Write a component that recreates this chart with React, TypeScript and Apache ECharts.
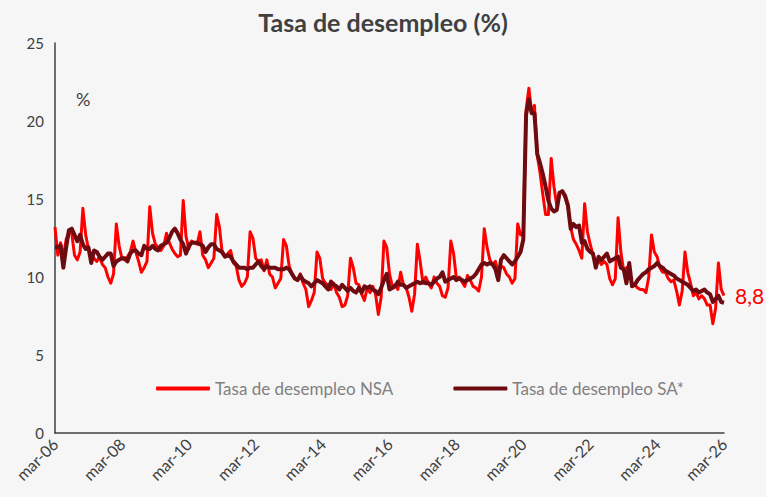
import React, { useEffect, useRef } from "react";
import * as echarts from "echarts";

// Monthly series from mar-2006 to mar-2026 (241 months)
const START_YEAR = 2006;
const START_MONTH = 2; // 0-based: marzo
const MONTHS_ES = ["ene", "feb", "mar", "abr", "may", "jun", "jul", "ago", "sep", "oct", "nov", "dic"];

// Tasa de desempleo NSA (%)
const NSA: number[] = [
  13.2, 11.4, 12.2, 11.3, 12.4, 12.9, 12.8, 11.4, 11.1, 11.6, // 2006 (mar-dic)
  14.4, 12.7, 11.8, 11.4, 11.2, 11.0, 11.3, 10.8, 10.6, 10.0, 9.6, 10.2, // 2007
  13.4, 12.0, 11.2, 11.1, 11.3, 11.6, 12.3, 11.6, 11.0, 10.3, 10.6, 11.0, // 2008
  14.5, 12.8, 12.1, 11.9, 11.7, 12.0, 12.8, 12.2, 11.8, 11.5, 11.3, 11.4, // 2009
  14.9, 12.6, 11.8, 12.3, 12.2, 12.1, 12.9, 11.4, 11.1, 10.6, 10.9, 11.2, // 2010
  14.0, 13.2, 11.5, 11.3, 11.5, 11.7, 10.9, 10.7, 9.8, 9.4, 9.6, 10.0, // 2011
  12.9, 12.5, 11.2, 11.0, 11.1, 10.4, 11.1, 10.2, 10.0, 9.3, 9.6, 9.9, // 2012
  12.4, 12.0, 10.7, 10.2, 9.9, 9.8, 10.2, 9.6, 9.2, 8.1, 8.5, 9.0, // 2013
  11.6, 11.2, 9.9, 9.6, 9.5, 9.2, 9.6, 9.0, 8.7, 8.1, 8.2, 8.8, // 2014
  11.2, 10.6, 9.6, 9.5, 8.9, 8.5, 9.3, 9.0, 9.4, 8.9, 7.6, 8.7, // 2015
  12.3, 11.9, 10.2, 9.4, 9.5, 9.2, 10.3, 9.5, 9.3, 8.7, 7.8, 8.9, // 2016
  12.1, 11.0, 9.6, 10.0, 9.6, 9.3, 10.0, 9.6, 9.4, 8.8, 8.7, 9.3, // 2017
  12.3, 11.5, 9.9, 10.0, 9.7, 9.4, 10.1, 9.8, 9.4, 9.3, 9.1, 10.0, // 2018
  13.1, 11.9, 11.1, 10.8, 11.0, 10.3, 10.7, 10.6, 10.2, 10.0, 9.6, 9.9, // 2019
  13.4, 12.7, 12.9, 20.7, 22.1, 20.5, 21.0, 17.8, 16.7, 15.3, 14.0, 14.0, // 2020
  17.6, 15.8, 14.6, 15.4, 15.5, 15.1, 14.5, 13.2, 12.4, 12.1, 11.7, 11.2, // 2021
  14.7, 12.9, 12.1, 11.4, 11.0, 11.1, 10.8, 11.0, 10.8, 9.9, 9.5, 9.9, // 2022
  13.8, 11.6, 10.4, 10.6, 10.5, 9.4, 9.5, 9.3, 9.2, 9.2, 9.0, 10.0, // 2023
  12.7, 11.6, 11.3, 10.6, 10.3, 10.3, 9.9, 9.7, 9.8, 9.1, 8.2, 9.1, // 2024
  11.6, 10.3, 9.6, 8.8, 9.0, 8.6, 8.8, 8.6, 8.2, 8.2, 7.0, 8.0, // 2025
  10.9, 9.2, 8.8, // 2026 (ene-mar)
];

// Tasa de desempleo SA* (%)
const SA: number[] = [
  11.9, 11.9, 12.0, 10.6, 11.9, 13.0, 13.1, 12.7, 12.3, 12.7, // 2006 (mar-dic)
  12.1, 11.8, 11.9, 10.9, 11.7, 11.6, 11.3, 11.1, 11.3, 11.5, 11.5, 10.7, // 2007
  11.0, 11.1, 11.2, 11.2, 11.0, 11.5, 11.7, 11.7, 11.5, 11.4, 12.0, 11.8, // 2008
  11.8, 12.0, 11.8, 11.7, 12.0, 12.1, 12.2, 12.5, 12.9, 13.1, 12.8, 12.4, // 2009
  12.1, 11.5, 12.0, 12.2, 12.2, 12.2, 12.1, 12.0, 11.6, 11.9, 12.1, 12.1, // 2010
  11.8, 11.7, 11.6, 11.3, 11.4, 11.3, 11.0, 10.8, 10.6, 10.6, 10.6, 10.5, // 2011
  10.6, 10.6, 10.8, 11.0, 10.7, 10.5, 10.7, 10.6, 10.6, 10.6, 10.5, 10.5, // 2012
  10.5, 10.6, 10.5, 10.2, 9.9, 9.8, 10.1, 9.8, 9.7, 9.6, 9.4, 9.6, // 2013
  9.8, 9.7, 9.6, 9.4, 9.2, 9.7, 9.5, 9.4, 9.2, 9.5, 9.3, 9.1, // 2014
  9.3, 9.1, 9.0, 9.3, 9.0, 9.4, 9.3, 9.4, 9.2, 9.1, 8.9, 9.3, // 2015
  9.8, 10.2, 9.2, 9.3, 9.4, 9.7, 9.5, 9.5, 9.3, 9.4, 9.5, 9.6, // 2016
  9.7, 9.6, 9.7, 9.6, 9.6, 9.5, 9.7, 9.9, 10.0, 10.3, 9.7, 9.8, // 2017
  9.9, 10.0, 9.8, 9.9, 9.8, 9.7, 9.8, 9.9, 10.0, 10.2, 10.5, 10.8, // 2018
  10.9, 10.8, 10.9, 10.8, 10.5, 9.8, 11.1, 11.4, 11.2, 11.0, 10.8, 11.0, // 2019
  11.3, 11.6, 12.4, 20.4, 21.4, 20.5, 20.5, 17.9, 17.3, 16.6, 15.8, 14.9, // 2020
  14.4, 14.2, 14.3, 15.4, 15.5, 15.2, 14.6, 13.1, 13.4, 13.2, 13.3, 12.2, // 2021
  12.3, 11.8, 11.6, 11.5, 10.6, 11.3, 11.1, 11.3, 11.5, 11.0, 11.1, 11.2, // 2022
  11.3, 10.6, 10.5, 9.6, 10.9, 9.4, 9.5, 9.8, 10.0, 10.2, 10.3, 10.5, // 2023
  10.6, 10.7, 10.9, 10.7, 10.6, 10.4, 10.3, 10.2, 10.1, 9.9, 9.8, 9.7, // 2024
  9.6, 9.5, 9.3, 9.1, 9.2, 9.0, 9.1, 9.2, 9.0, 8.9, 8.4, 8.6, // 2025
  8.8, 8.4, 8.35, // 2026 (ene-mar)
];

const CATEGORIES: string[] = NSA.map((_, i) => {
  const m = (START_MONTH + i) % 12;
  const y = START_YEAR + Math.floor((START_MONTH + i) / 12);
  return `${MONTHS_ES[m]}-${String(y % 100).padStart(2, "0")}`;
});

const Y_TICKS = { min: 0, max: 25, interval: 5 };
const NAME_NSA = "Tasa de desempleo NSA";
const NAME_SA = "Tasa de desempleo SA*";
const RED = "#ff0000";
const DARK = "#6e0b10";
const FONT = "Lato";

export default function App() {
  const ref = useRef<HTMLDivElement>(null);
  useEffect(() => {
    if (!ref.current) return;
    const chart = echarts.init(ref.current, undefined, { renderer: "svg" });
    const lastVal = NSA[NSA.length - 1];
    chart.setOption({
      animation: false,
      backgroundColor: "#f6f6f6",
      title: {
        text: "Tasa de desempleo (%)",
        left: "center",
        top: 4,
        textStyle: { fontFamily: FONT, fontWeight: "bold", fontSize: 25, color: "#404040" },
      },
      grid: { left: 55, right: 42, top: 43, bottom: 64 },
      legend: {
        left: 151,
        top: 375,
        itemWidth: 54,
        itemHeight: 4,
        itemGap: 60,
        textStyle: { fontFamily: FONT, fontSize: 17, color: "#808080" },
        data: [
          { name: NAME_NSA, icon: "roundRect" },
          { name: NAME_SA, icon: "roundRect" },
        ],
      },
      graphic: [
        {
          type: "text",
          left: 76,
          top: 90,
          style: { text: "%", fontFamily: FONT, fontSize: 18, fill: "#404040" },
        },
      ],
      xAxis: {
        type: "category",
        boundaryGap: false,
        data: CATEGORIES,
        axisLine: { lineStyle: { color: "#404040", width: 1.5 } },
        axisTick: { show: false },
        axisLabel: {
          interval: 23,
          rotate: 45,
          margin: 8,
          fontFamily: FONT,
          fontSize: 16,
          color: "#404040",
        },
        splitLine: { show: false },
      },
      yAxis: {
        type: "value",
        min: Y_TICKS.min,
        max: Y_TICKS.max,
        interval: Y_TICKS.interval,
        axisLine: { show: true, lineStyle: { color: "#404040", width: 1.5 } },
        axisTick: { show: false },
        axisLabel: { fontFamily: FONT, fontSize: 15, color: "#404040", margin: 11 },
        splitLine: { show: false },
      },
      series: [
        {
          name: NAME_NSA,
          type: "line",
          data: NSA,
          symbol: "none",
          z: 2,
          itemStyle: { color: RED },
          lineStyle: { color: RED, width: 3, join: "round" },
          endLabel: {
            show: true,
            distance: 11,
            formatter: () => lastVal.toFixed(1).replace(".", ","),
            color: RED,
            fontFamily: FONT,
            fontSize: 21,
          },
        },
        {
          name: NAME_SA,
          type: "line",
          data: SA,
          symbol: "none",
          z: 3,
          itemStyle: { color: DARK },
          lineStyle: { color: DARK, width: 4, join: "round" },
        },
      ],
    });
    return () => chart.dispose();
  }, []);
  return (
    <div
      ref={ref}
      style={{ position: "fixed", left: 0, top: 0, width: 766, height: 497 }}
    />
  );
}
